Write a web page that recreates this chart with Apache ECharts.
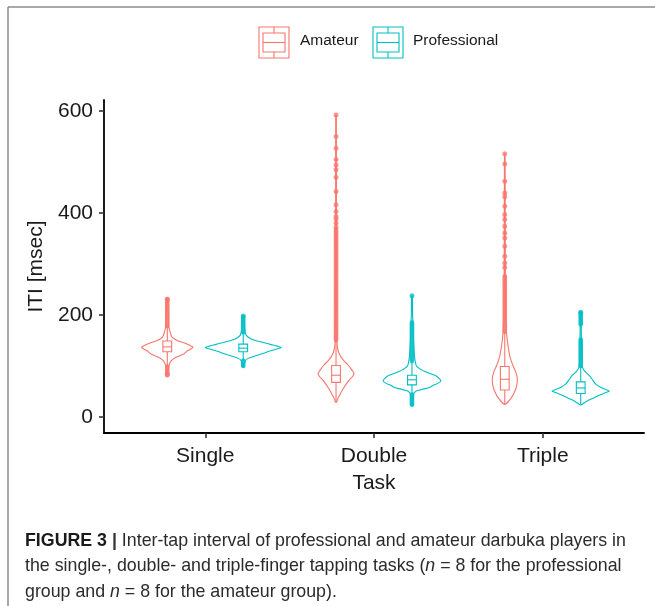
<!DOCTYPE html>
<html>
<head>
<meta charset="utf-8">
<script src="https://cdn.jsdelivr.net/npm/echarts@6/dist/echarts.min.js"></script>
<style>
  html, body { margin: 0; padding: 0; background: #ffffff; }
  #chart { width: 655px; height: 606px; }
</style>
</head>
<body>
<div id="chart"></div>
<script>
// Tasks on the x axis and the two player groups
const tasks = ['Single', 'Double', 'Triple'];
const groups = ['Amateur', 'Professional'];
const yTicks = [0, 200, 400, 600];

// Violin outlines per group and task: [ITI msec, relative density (1 = widest violin)]
const violinAmateurSingle = [[231,0.011],[200,0.026],[178,0.04],[165,0.08],[156,0.13],[150,0.26],[146,0.42],[141,0.58],[137,0.68],[133,0.61],[128,0.5],[123,0.42],[118,0.26],[113,0.145],[108,0.08],[100,0.04],[90,0.02],[84,0.008]];
const violinAmateurDouble = [[592,0.008],[400,0.01],[250,0.016],[160,0.02],[146,0.026],[135,0.04],[125,0.08],[118,0.13],[110,0.21],[102,0.32],[95,0.39],[88,0.46],[84,0.47],[79,0.43],[72,0.34],[66,0.28],[58,0.21],[50,0.145],[42,0.09],[35,0.04],[29,0.013]];
const violinAmateurTriple = [[516,0.008],[350,0.013],[200,0.02],[172,0.04],[150,0.066],[139,0.087],[120,0.13],[110,0.17],[100,0.22],[90,0.28],[80,0.32],[74,0.33],[64,0.32],[55,0.29],[48,0.25],[42,0.21],[35,0.145],[29,0.08],[25,0.013]];
const violinProfessionalSingle = [[198,0.013],[185,0.026],[172,0.04],[160,0.08],[153,0.21],[149,0.37],[145,0.58],[142,0.74],[139,0.9],[136,1.0],[133,0.87],[129,0.68],[126,0.58],[122,0.42],[119,0.29],[115,0.13],[110,0.05],[100,0.013]];
const violinProfessionalDouble = [[238,0.01],[200,0.016],[185,0.026],[150,0.04],[120,0.066],[107,0.09],[100,0.12],[91,0.29],[86,0.45],[81,0.63],[76,0.71],[71,0.76],[66,0.68],[62,0.55],[58,0.47],[54,0.26],[51,0.11],[45,0.04],[35,0.026],[24,0.013]];
const violinProfessionalTriple = [[205,0.01],[150,0.018],[110,0.03],[97,0.05],[90,0.105],[81,0.23],[72,0.32],[65,0.39],[58,0.53],[54,0.66],[51,0.755],[47,0.63],[42,0.47],[37,0.33],[31,0.16],[24,0.013]];

// Box statistics per task: [lower whisker, Q1, median, Q3, upper whisker]
const boxAmateur = [[99,128,137.5,149,178],[30,68,82,101,150],[25,53,74,99,167]];
const boxProfessional = [[110,128,135,143,166],[45,63,73,82,110],[25,46,57,69,100]];

// Stretches where outlying taps pile up into a continuous streak: [from, to]
const streaksAmateur = [[[178,231],[82,99]], [[151,367]], [[167,276]]];
const streaksProfessional = [[[166,196],[100,110]], [[110,185],[24,44]], [[100,152],[182,205]]];

// Isolated outlying taps
const outliersAmateur = [[231,84], [372,380,388,393,403,416,442,470,485,494,505,527,550,592], [293,302,315,335,351,361,374,387,397,413,432,439,462,496,516]];
const outliersProfessional = [[198], [238], [205]];

const colors = { Amateur: '#F8766D', Professional: '#00BFC4' };
const violins = {
  Amateur: [violinAmateurSingle, violinAmateurDouble, violinAmateurTriple],
  Professional: [violinProfessionalSingle, violinProfessionalDouble, violinProfessionalTriple]
};
const boxes = { Amateur: boxAmateur, Professional: boxProfessional };
const streaks = { Amateur: streaksAmateur, Professional: streaksProfessional };
const outliers = { Amateur: outliersAmateur, Professional: outliersProfessional };

const DODGE = 0.225;      // half of the dodge width
const VIOLIN_HALF = 0.225; // half-width of the widest violin
const BOX_HALF = 0.026;    // half-width of the boxes
const FONT = 'Liberation Sans, Arial, Helvetica, sans-serif';
const AXIS_FONT = 21;

function centerOf(g, i) { return i + 1 + (g === 'Amateur' ? -DODGE : DODGE); }

const series = [];
groups.forEach(g => {
  const col = colors[g];
  // violins
  series.push({
    name: g, type: 'custom', z: 2,
    data: tasks.map((t, i) => [i]),
    renderItem(params, api) {
      const i = api.value(0);
      const cx = centerOf(g, i);
      const prof = violins[g][i];
      const right = prof.map(([v, d]) => api.coord([cx + d * VIOLIN_HALF, v]));
      const left = prof.slice().reverse().map(([v, d]) => api.coord([cx - d * VIOLIN_HALF, v]));
      return {
        type: 'polygon',
        shape: { points: right.concat(left), smooth: 0.25 },
        style: { fill: '#ffffff', stroke: col, lineWidth: 1.1 }
      };
    }
  });
  // dense outlier streaks
  const streakData = [];
  streaks[g].forEach((list, i) => list.forEach(([a, b]) => streakData.push([i, a, b])));
  series.push({
    name: g, type: 'custom', z: 3,
    data: streakData,
    renderItem(params, api) {
      const cx = centerOf(g, api.value(0));
      const p1 = api.coord([cx, api.value(1)]);
      const p2 = api.coord([cx, api.value(2)]);
      return {
        type: 'line',
        shape: { x1: p1[0], y1: p1[1], x2: p2[0], y2: p2[1] },
        style: { stroke: col, lineWidth: 4.6, lineCap: 'round', opacity: 0.9 }
      };
    }
  });
  // isolated outliers
  const pts = [];
  outliers[g].forEach((list, i) => list.forEach(v => pts.push([centerOf(g, i), v])));
  series.push({
    name: g, type: 'scatter', z: 3,
    data: pts, symbol: 'circle', symbolSize: 5,
    itemStyle: { color: col, opacity: 0.75 },
    silent: true
  });
  // boxplots
  series.push({
    name: g, type: 'custom', z: 4,
    data: boxes[g].map((b, i) => [i].concat(b)),
    renderItem(params, api) {
      const cx = centerOf(g, api.value(0));
      const lo = api.value(1), q1 = api.value(2), med = api.value(3), q3 = api.value(4), hi = api.value(5);
      const a = api.coord([cx - BOX_HALF, q3]);
      const b = api.coord([cx + BOX_HALF, q1]);
      const m = api.coord([cx, med]);
      const pLo = api.coord([cx, lo]);
      const pHi = api.coord([cx, hi]);
      const st = { stroke: col, lineWidth: 1.1, fill: null };
      return {
        type: 'group',
        children: [
          { type: 'line', shape: { x1: pHi[0], y1: pHi[1], x2: pHi[0], y2: a[1] }, style: st },
          { type: 'line', shape: { x1: pLo[0], y1: b[1], x2: pLo[0], y2: pLo[1] }, style: st },
          { type: 'rect', shape: { x: a[0], y: a[1], width: b[0] - a[0], height: b[1] - a[1] }, style: { stroke: col, lineWidth: 1.1, fill: '#ffffff' } },
          { type: 'line', shape: { x1: a[0], y1: m[1], x2: b[0], y2: m[1] }, style: st }
        ]
      };
    }
  });
});

// Legend keys: violin rectangle with a small boxplot glyph inside
function legendKey(x, col) {
  const y0 = 27, h = 31, w = 30, cx = x + w / 2;
  return [
    { type: 'rect', shape: { x: x, y: y0, width: w, height: h }, style: { fill: '#fff', stroke: col, lineWidth: 1.1 } },
    { type: 'line', shape: { x1: cx, y1: y0, x2: cx, y2: y0 + 6 }, style: { stroke: col, lineWidth: 1.1 } },
    { type: 'line', shape: { x1: cx, y1: y0 + h - 6, x2: cx, y2: y0 + h }, style: { stroke: col, lineWidth: 1.1 } },
    { type: 'rect', shape: { x: x + 4, y: y0 + 6, width: w - 8, height: h - 12 }, style: { fill: 'none', stroke: col, lineWidth: 1.1 } },
    { type: 'line', shape: { x1: x + 4, y1: y0 + h / 2, x2: x + w - 4, y2: y0 + h / 2 }, style: { stroke: col, lineWidth: 1.1 } }
  ];
}

const graphics = [
  { type: 'line', shape: { x1: 8, y1: 7, x2: 655, y2: 7 }, style: { stroke: '#8c8c8c', lineWidth: 1.5 } },
  { type: 'line', shape: { x1: 8, y1: 7, x2: 8, y2: 606 }, style: { stroke: '#8c8c8c', lineWidth: 1.5 } }
].concat(legendKey(259, colors.Amateur), legendKey(373, colors.Professional), [
  { type: 'text', left: 300, top: 33, style: { text: 'Amateur', font: '15.5px ' + FONT, fill: '#1a1a1a' } },
  { type: 'text', left: 413, top: 33, style: { text: 'Professional', font: '15.5px ' + FONT, fill: '#1a1a1a' } },
  {
    type: 'text', left: 25, top: 528,
    style: {
      text: '{b|FIGURE 3} {s||} Inter-tap interval of professional and amateur darbuka players in\nthe single-, double- and triple-finger tapping tasks ({i|n} = 8 for the professional\ngroup and {i|n} = 8 for the amateur group).',
      font: '17.8px ' + FONT, fill: '#2b2b2b', lineHeight: 25.5,
      rich: {
        b: { fontWeight: 'bold', fontSize: 17.8, fontFamily: FONT, fill: '#1a1a1a' },
        s: { fontWeight: 'bold', fontSize: 17.8, fontFamily: FONT, fill: '#333' },
        i: { fontStyle: 'italic', fontSize: 17.8, fontFamily: FONT }
      }
    }
  }
]);

const chart = echarts.init(document.getElementById('chart'), null, { renderer: 'canvas' });
chart.setOption({
  animation: false,
  backgroundColor: '#ffffff',
  grid: { left: 104, right: 11, top: 100, bottom: 173, containLabel: false },
  xAxis: {
    type: 'value', min: 0.4, max: 3.6,
    name: 'Task', nameLocation: 'middle', nameGap: 40,
    nameTextStyle: { fontSize: AXIS_FONT, color: '#1a1a1a', fontFamily: FONT },
    axisLine: { onZero: false, lineStyle: { color: '#000', width: 1.8 } },
    axisTick: { customValues: [1, 2, 3], length: 5, lineStyle: { color: '#333', width: 1.6 } },
    axisLabel: { customValues: [1, 2, 3], formatter: v => tasks[Math.round(v) - 1], fontSize: AXIS_FONT, color: '#1a1a1a', fontFamily: FONT, margin: 13 },
    splitLine: { show: false }
  },
  yAxis: {
    type: 'value', min: -31.3, max: 621.5,
    name: 'ITI [msec]', nameLocation: 'middle', nameGap: 53, nameRotate: 90,
    nameTextStyle: { fontSize: AXIS_FONT, color: '#1a1a1a', fontFamily: FONT },
    axisLine: { show: true, onZero: false, lineStyle: { color: '#000', width: 1.8 } },
    axisTick: { show: true, customValues: yTicks, length: 5, lineStyle: { color: '#333', width: 1.6 } },
    axisLabel: { customValues: yTicks, fontSize: AXIS_FONT, color: '#1a1a1a', fontFamily: FONT, margin: 11 },
    splitLine: { show: false }
  },
  graphic: graphics,
  series: series
});
</script>
</body>
</html>
